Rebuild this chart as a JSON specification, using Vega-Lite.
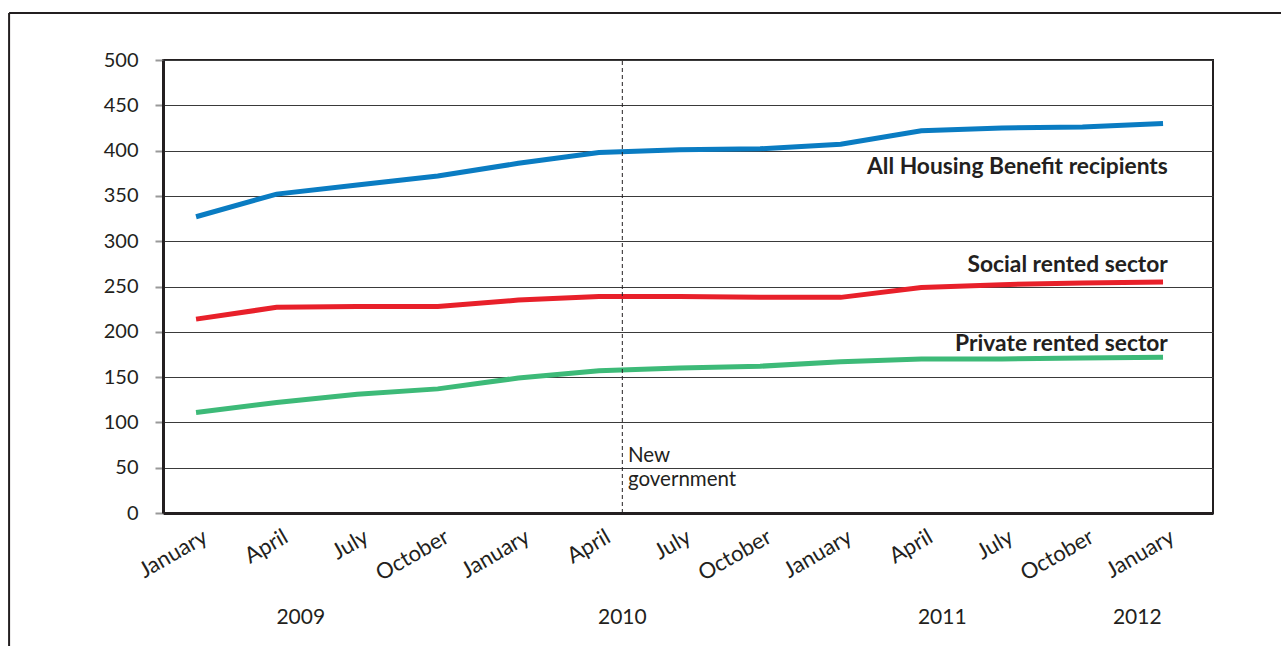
{
  "$schema": "https://vega.github.io/schema/vega-lite/v6.json",
  "width": 1050,
  "height": 453,
  "autosize": {"type": "none"},
  "padding": {"left": 163, "top": 60, "right": 68, "bottom": 133},
  "background": "white",
  "config": {
    "font": "Lato",
    "view": {"stroke": "#231f20", "strokeWidth": 2}
  },
  "datasets": {
    "series": [
      {"series": "All", "i": 0, "value": 327},
      {"series": "All", "i": 1, "value": 352},
      {"series": "All", "i": 2, "value": 362},
      {"series": "All", "i": 3, "value": 372},
      {"series": "All", "i": 4, "value": 386},
      {"series": "All", "i": 5, "value": 398},
      {"series": "All", "i": 6, "value": 401},
      {"series": "All", "i": 7, "value": 402},
      {"series": "All", "i": 8, "value": 407},
      {"series": "All", "i": 9, "value": 422},
      {"series": "All", "i": 10, "value": 425},
      {"series": "All", "i": 11, "value": 426},
      {"series": "All", "i": 12, "value": 430},
      {"series": "Social", "i": 0, "value": 214},
      {"series": "Social", "i": 1, "value": 227},
      {"series": "Social", "i": 2, "value": 228},
      {"series": "Social", "i": 3, "value": 228},
      {"series": "Social", "i": 4, "value": 235},
      {"series": "Social", "i": 5, "value": 239},
      {"series": "Social", "i": 6, "value": 239},
      {"series": "Social", "i": 7, "value": 238},
      {"series": "Social", "i": 8, "value": 238},
      {"series": "Social", "i": 9, "value": 249},
      {"series": "Social", "i": 10, "value": 252},
      {"series": "Social", "i": 11, "value": 254},
      {"series": "Social", "i": 12, "value": 255},
      {"series": "Private", "i": 0, "value": 111},
      {"series": "Private", "i": 1, "value": 122},
      {"series": "Private", "i": 2, "value": 131},
      {"series": "Private", "i": 3, "value": 137},
      {"series": "Private", "i": 4, "value": 149},
      {"series": "Private", "i": 5, "value": 157},
      {"series": "Private", "i": 6, "value": 160},
      {"series": "Private", "i": 7, "value": 162},
      {"series": "Private", "i": 8, "value": 167},
      {"series": "Private", "i": 9, "value": 170},
      {"series": "Private", "i": 10, "value": 170},
      {"series": "Private", "i": 11, "value": 171},
      {"series": "Private", "i": 12, "value": 172}
    ],
    "labels": [
      {"label": "All Housing Benefit recipients", "i": 12.06, "value": 382},
      {"label": "Social rented sector", "i": 12.06, "value": 274},
      {"label": "Private rented sector", "i": 12.06, "value": 186}
    ],
    "years": [
      {"year": "2009", "i": 1.3, "value": -116},
      {"year": "2010", "i": 5.29, "value": -116},
      {"year": "2011", "i": 9.26, "value": -116},
      {"year": "2012", "i": 11.68, "value": -116}
    ],
    "frame": [
      {"i": -2.32, "i2": 13.6, "value": 552, "value2": 552},
      {"i": -2.32, "i2": -2.32, "value": 552, "value2": -160}
    ]
  },
  "layer": [
    {
      "data": {"name": "series"},
      "mark": {"type": "line", "strokeWidth": 5, "clip": false},
      "encoding": {
        "x": {
          "field": "i", "type": "quantitative",
          "scale": {"domain": [-0.41, 12.62], "nice": false, "zero": false},
          "axis": {
            "values": [0,1,2,3,4,5,6,7,8,9,10,11,12],
            "labelExpr": "['January','April','July','October'][datum.value % 4]",
            "labelAngle": -30,
            "labelAlign": "right",
            "labelBaseline": "top",
            "labelFontSize": 22,
            "labelColor": "#231f20",
            "labelPadding": 13,
            "labelOffset": 4,
            "ticks": false,
            "grid": false,
            "domainColor": "#231f20",
            "domainWidth": 3,
            "title": null
          }
        },
        "y": {
          "field": "value", "type": "quantitative",
          "scale": {"domain": [0, 500], "nice": false},
          "axis": {
            "values": [0,50,100,150,200,250,300,350,400,450,500],
            "labelFontSize": 20,
            "labelColor": "#231f20",
            "labelPadding": 17,
            "tickSize": 8,
            "tickColor": "#999999",
            "tickWidth": 2,
            "grid": true,
            "gridColor": "#3a3a3a",
            "gridWidth": 1,
            "domainColor": "#231f20",
            "domainWidth": 3,
            "title": null
          }
        },
        "color": {
          "field": "series", "type": "nominal",
          "scale": {"domain": ["All", "Social", "Private"], "range": ["#0a7cc2", "#e8202a", "#3dba78"]},
          "legend": null
        },
        "detail": {"field": "series"}
      }
    },
    {
      "data": {"values": [{"x": 5.29}]},
      "mark": {"type": "rule", "strokeDash": [4, 3], "color": "#231f20", "strokeWidth": 1},
      "encoding": {
        "x": {"field": "x", "type": "quantitative"},
        "y": {"datum": 0},
        "y2": {"datum": 500}
      }
    },
    {
      "data": {"values": [{"t": "New\ngovernment", "x": 5.36, "value": 62.5}]},
      "mark": {"type": "text", "align": "left", "baseline": "middle", "fontSize": 20.5, "lineBreak": "\n", "lineHeight": 24, "color": "#231f20"},
      "encoding": {
        "x": {"field": "x", "type": "quantitative"},
        "y": {"field": "value", "type": "quantitative"},
        "text": {"field": "t"}
      }
    },
    {
      "data": {"name": "labels"},
      "mark": {"type": "text", "align": "right", "baseline": "middle", "fontSize": 22.8, "fontWeight": "bold", "color": "#231f20"},
      "encoding": {
        "x": {"field": "i", "type": "quantitative"},
        "y": {"field": "value", "type": "quantitative"},
        "text": {"field": "label"}
      }
    },
    {
      "data": {"name": "years"},
      "mark": {"type": "text", "align": "center", "baseline": "middle", "fontSize": 21, "color": "#231f20"},
      "encoding": {
        "x": {"field": "i", "type": "quantitative"},
        "y": {"field": "value", "type": "quantitative"},
        "text": {"field": "year"}
      }
    },
    {
      "data": {"name": "frame"},
      "mark": {"type": "rule", "color": "#231f20", "strokeWidth": 2},
      "encoding": {
        "x": {"field": "i", "type": "quantitative"},
        "x2": {"field": "i2"},
        "y": {"field": "value", "type": "quantitative"},
        "y2": {"field": "value2"}
      }
    }
  ]
}
